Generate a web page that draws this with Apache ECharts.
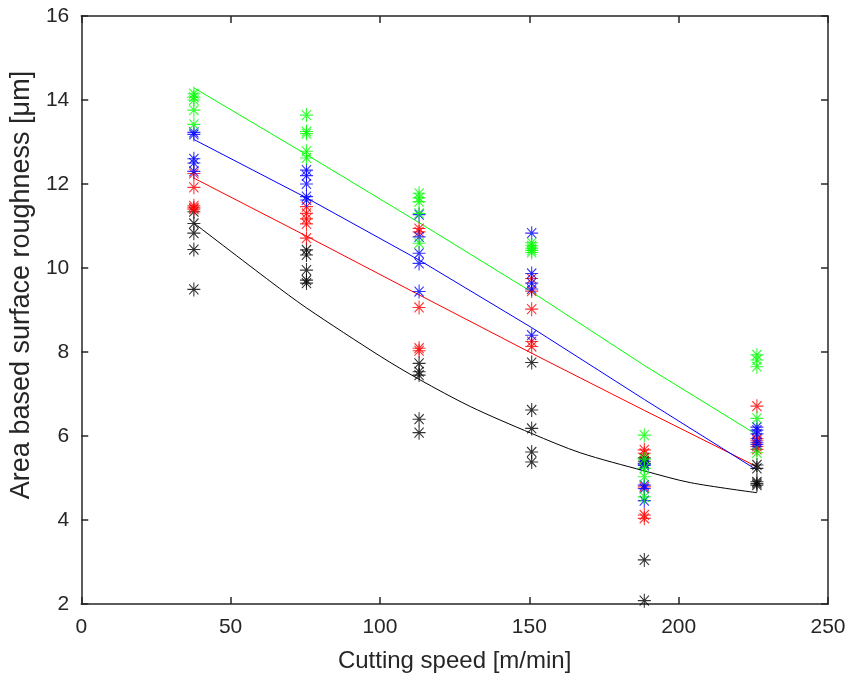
<!DOCTYPE html>
<html>
<head>
<meta charset="utf-8">
<script src="https://cdn.jsdelivr.net/npm/echarts@6/dist/echarts.min.js"></script>
<style>
html,body{margin:0;padding:0;background:#fff;}
#chart{width:859px;height:678px;}
</style>
</head>
<body>
<div id="chart"></div>
<script>
// Cutting speeds (m/min) of the six measurement columns
const speeds = [37.7, 75.4, 113.1, 150.8, 188.5, 226.2];
const xTicks = [0, 50, 100, 150, 200, 250];
const yTicks = [2, 4, 6, 8, 10, 12, 14, 16];

// Measured values per speed (5 per column)
const blackPts = [
  [11.34, 11.06, 10.83, 10.44, 9.49],
  [10.43, 10.31, 9.95, 9.71, 9.64],
  [7.73, 7.53, 7.45, 6.40, 6.08],
  [7.75, 6.62, 6.18, 5.62, 5.38],
  [5.48, 5.40, 5.35, 3.05, 2.08],
  [5.31, 5.23, 4.91, 4.87, 4.83]
];
const redPts = [
  [12.25, 11.92, 11.48, 11.43, 11.40],
  [11.46, 11.30, 11.17, 11.05, 10.71],
  [10.94, 10.86, 9.06, 8.09, 8.03],
  [9.75, 9.45, 9.02, 8.25, 8.13],
  [5.67, 5.59, 4.79, 4.12, 4.04],
  [6.71, 5.94, 5.90, 5.75, 5.68]
];
const bluePts = [
  [13.23, 13.18, 12.60, 12.50, 12.30],
  [12.33, 12.20, 12.00, 11.70, 11.62],
  [11.27, 10.74, 10.35, 10.11, 9.44],
  [10.83, 9.87, 9.64, 9.50, 8.40],
  [5.33, 5.30, 4.83, 4.75, 4.46],
  [6.21, 6.14, 6.05, 5.85, 5.80]
];
const greenPts = [
  [14.15, 14.07, 14.00, 13.76, 13.42],
  [13.64, 13.25, 13.20, 12.78, 12.62],
  [11.78, 11.67, 11.58, 11.30, 10.59],
  [10.60, 10.53, 10.47, 10.42, 10.37],
  [6.02, 5.45, 5.23, 5.03, 4.55],
  [7.93, 7.81, 7.65, 6.42, 5.60]
];

// Fitted trend lines
const greenFit = [14.29, 12.70, 11.08, 9.43, 7.68, 6.03];
const blueFit  = [13.06, 11.67, 10.19, 8.58, 6.87, 5.19];
const redFit   = [12.14, 10.76, 9.36, 7.97, 6.61, 5.27];
const blackFitX = [37.7, 63.5, 75.4, 100.3, 113.1, 130.3, 150.8, 167.1, 188.5, 203.9, 226.2];
const blackFitY = [11.07, 9.67, 9.05, 7.89, 7.35, 6.70, 6.06, 5.60, 5.17, 4.89, 4.65];

const COL = {black:'#000000', red:'#ff0000', blue:'#0000ff', green:'#00ff00'};
const AX = '#262626';
const FONT = 'Liberation Sans, Arial, sans-serif';
const STAR = 'path://M5,0L5,10M0,5L10,5M1.46,1.46L8.54,8.54M1.46,8.54L8.54,1.46';

function pts(arr){
  const out = [];
  arr.forEach((col, i) => col.forEach(v => out.push([speeds[i], v])));
  return out;
}
function scatter(name, arr, c){
  return {
    name, type:'scatter', data: pts(arr), symbol: STAR, symbolSize:[13,14],
    itemStyle:{color:c, borderColor:c, borderWidth:1.1}, z:3, silent:true
  };
}
function line(name, xs, ys, c, smooth){
  return {
    name, type:'line', data: xs.map((x,i)=>[x, ys[i]]), showSymbol:false, symbol:'none',
    smooth: smooth ? 0.3 : false,
    lineStyle:{color:c, width:1}, z:2, silent:true
  };
}

const axisCommon = {
  type:'value',
  axisLine:{show:true, onZero:false, lineStyle:{color:AX, width:1.5}},
  axisTick:{show:true, inside:true, length:7, lineStyle:{color:AX, width:1.5}},
  splitLine:{show:false}
};

const chart = echarts.init(document.getElementById('chart'));
chart.setOption({
  animation:false,
  backgroundColor:'#ffffff',
  grid:{left:80, right:31, top:16, bottom:74, containLabel:false},
  xAxis:[
    Object.assign({}, axisCommon, {
      min:xTicks[0], max:xTicks[xTicks.length-1], interval:xTicks[1]-xTicks[0], position:'bottom',
      axisLabel:{fontSize:21, color:AX, margin:13, fontFamily:FONT},
      name:'Cutting speed [m/min]', nameLocation:'middle', nameGap:45,
      nameTextStyle:{fontSize:24, color:AX, fontFamily:FONT}
    }),
    Object.assign({}, axisCommon, {
      min:xTicks[0], max:xTicks[xTicks.length-1], interval:xTicks[1]-xTicks[0], position:'top',
      axisLabel:{show:false}
    })
  ],
  yAxis:[
    Object.assign({}, axisCommon, {
      min:yTicks[0], max:yTicks[yTicks.length-1], interval:yTicks[1]-yTicks[0], position:'left',
      axisLabel:{fontSize:21, color:AX, margin:12, fontFamily:FONT},
      name:'Area based surface roughness [\u03bcm]', nameLocation:'middle', nameGap:43, nameRotate:90,
      nameTextStyle:{fontSize:27, color:AX, fontFamily:FONT, padding:[0,0,0,50]}
    }),
    Object.assign({}, axisCommon, {
      min:yTicks[0], max:yTicks[yTicks.length-1], interval:yTicks[1]-yTicks[0], position:'right',
      axisLabel:{show:false}
    })
  ],
  series:[
    scatter('black', blackPts, COL.black),
    scatter('red', redPts, COL.red),
    scatter('blue', bluePts, COL.blue),
    scatter('green', greenPts, COL.green),
    line('black fit', blackFitX, blackFitY, COL.black, true),
    line('red fit', speeds, redFit, COL.red, false),
    line('blue fit', speeds, blueFit, COL.blue, false),
    line('green fit', speeds, greenFit, COL.green, false)
  ]
});
</script>
</body>
</html>
